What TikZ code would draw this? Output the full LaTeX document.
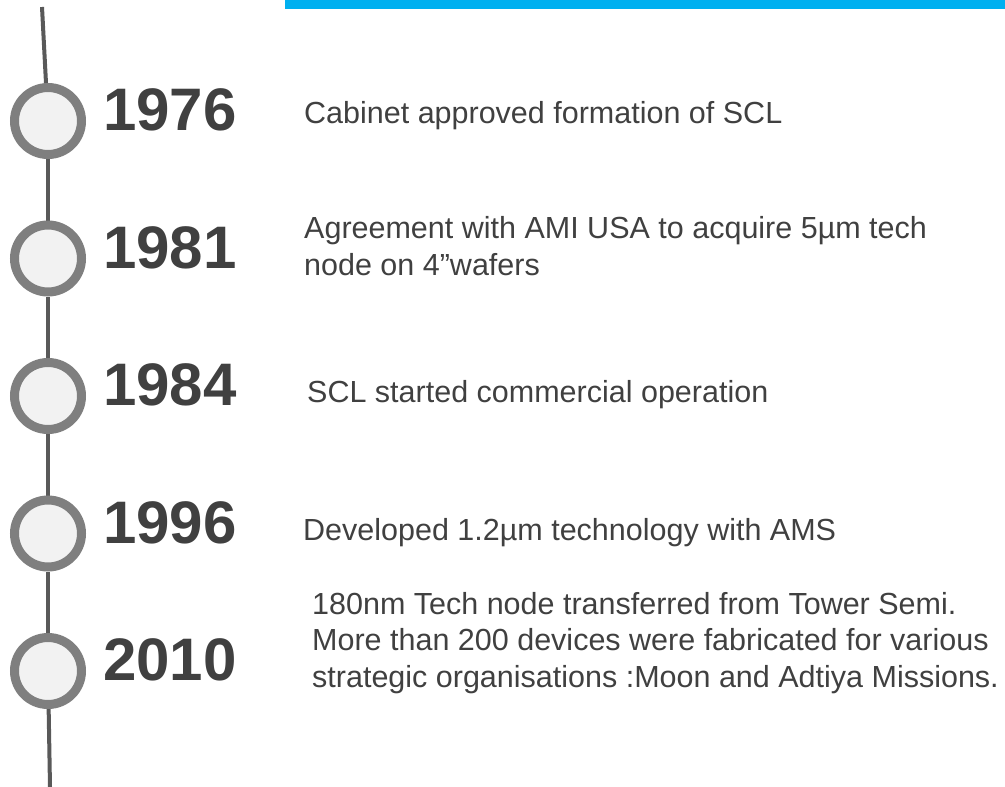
\documentclass[tikz,border=0pt]{standalone}
\usepackage{fontspec}
\setmainfont{Liberation Sans}
\usepackage{tikz}
\usetikzlibrary{positioning, backgrounds}

\definecolor{barblue}{HTML}{00B0F0}
\definecolor{ringgray}{HTML}{7F7F7F}
\definecolor{ringfill}{HTML}{F2F2F2}
\definecolor{linegray}{HTML}{595959}
\definecolor{textgray}{HTML}{404040}

\begin{document}
\begin{tikzpicture}[x=1pt, y=-1pt, node distance=137.5pt,
    ring/.style={circle, draw=ringgray, fill=ringfill, line width=9pt, minimum size=67pt, inner sep=0pt},
    year/.style={inner sep=0pt, text=textgray, font=\fontsize{60}{60}\selectfont\bfseries},
    event/.style={inner sep=0pt, anchor=base west, align=left, text=textgray, font=\fontsize{30.5}{36.5}\selectfont},
    timeline/.style={draw=linegray, line width=4pt}]
      \useasboundingbox (0,0) rectangle (1005,787);
      \fill[barblue] (285,0) rectangle (1005,9);

      \node[ring] (c1976) at (48,121) {};
      \node[ring, below of=c1976] (c1981) {};
      \node[ring, below of=c1981] (c1984) {};
      \node[ring, below of=c1984] (c1996) {};
      \node[ring, below of=c1996] (c2010) {};
      \coordinate (top) at (42,7);
      \coordinate (bottom) at (50,787);

      \node[year, right=17pt of c1976, yshift=11pt] (y1976) {1976};
      \node[year, right=17pt of c1981, yshift=11pt] (y1981) {1981};
      \node[year, right=17pt of c1984, yshift=11pt] (y1984) {1984};
      \node[year, right=17pt of c1996, yshift=11pt] (y1996) {1996};
      \node[year, right=17pt of c2010, yshift=11pt] (y2010) {2010};

      % base of a multi-line node = baseline of its last line
      \node[event] (e1976) at (304,123) {Cabinet approved formation of SCL};
      \node[event] (e1981) at (304,275) {Agreement with AMI USA to acquire 5µm tech\\node on 4”wafers};
      \node[event] (e1984) at (307,402) {SCL started commercial operation};
      \node[event] (e1996) at (303,540) {Developed 1.2µm technology with AMS};
      \node[event] (e2010) at (312,687) {180nm Tech node transferred from Tower Semi.\\More than 200 devices were fabricated for various\\strategic organisations :Moon and Adtiya Missions.};

      \begin{scope}[on background layer]
        \path[timeline] (top) edge (c1976)
              (c1976) edge (c1981)
              (c1981) edge (c1984)
              (c1984) edge (c1996)
              (c1996) edge (c2010)
              (c2010) edge (bottom);
      \end{scope}
\end{tikzpicture}
\end{document}
